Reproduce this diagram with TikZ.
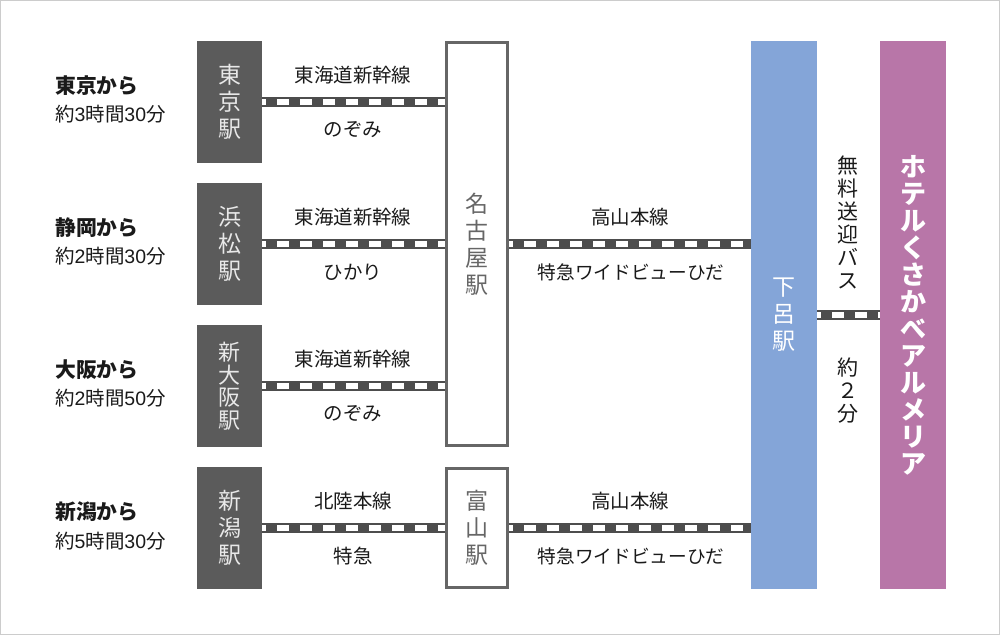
\documentclass[tikz,border=0pt]{standalone}
\usepackage{fontspec}
\setmainfont{Noto Sans CJK JP}
\newfontfamily\latinfont{Liberation Sans}
\newcommand\ldig[1]{{\latinfont #1}}
\definecolor{framegray}{HTML}{CCCCCC}
\definecolor{stngray}{HTML}{5B5B5B}
\definecolor{stntext}{HTML}{E8E8E8}
\definecolor{linegray}{HTML}{666666}
\definecolor{railgray}{HTML}{4D4D4D}
\definecolor{gerob}{HTML}{84A5D8}
\definecolor{hotelp}{HTML}{B876A8}
\definecolor{txt}{HTML}{1A1A1A}
\tikzset{
  darkstn/.style={rectangle, fill=stngray, text=stntext, inner sep=0pt,
    minimum width=48.75pt, minimum height=91.5pt, align=center,
    font=\fontsize{17.25}{20.25}\selectfont},
  whitestn/.style={rectangle, draw=linegray, line width=2.6pt, fill=white,
    text=linegray, inner sep=0pt, minimum width=45.4pt, align=center,
    font=\fontsize{17.25}{20.25}\selectfont},
  bigbar/.style={rectangle, inner sep=0pt, minimum width=49.5pt,
    minimum height=411pt, align=center},
  routelbl/.style={font=\fontsize{14.6}{17}\selectfont, text=txt, inner sep=0pt},
  originlbl/.style={font=\bfseries\fontsize{15.6}{18}\selectfont, text=txt, anchor=west, inner sep=0pt},
  timelbl/.style={font=\fontsize{14.6}{16}\selectfont, text=txt, anchor=west, inner sep=0pt},
  buslbl/.style={font=\fontsize{15.75}{17.25}\selectfont, text=txt, align=center, inner sep=0pt},
  railway/.style={draw=railgray, line width=7.5pt,
    postaction={draw=white, line width=4.2pt, dash pattern=on 8.8pt off 8.45pt, dash phase=6pt}}
}
\begin{document}
\begin{tikzpicture}[x=0.75pt,y=-0.75pt]
\useasboundingbox (0,0) rectangle (1000,635);
\draw[framegray, line width=0.75pt] (0.5,0.5) rectangle (999.5,634.5);

% origin stations
\node[darkstn] (tokyo) at (229.5,102) {東\\京\\駅};
\node[darkstn] (hamamatsu) at (229.5,244) {浜\\松\\駅};
\node[darkstn, font=\fontsize{16.5}{16.9}\selectfont] (osaka) at (229.5,386) {新\\大\\阪\\駅};
\node[darkstn] (niigata) at (229.5,528) {新\\潟\\駅};

% transfer stations
\node[whitestn, minimum height=301.9pt] (nagoya) at (477,244) {名\\古\\屋\\駅};
\node[whitestn, minimum height=88.9pt] (toyama) at (477,528) {富\\山\\駅};

% destination bars
\node[bigbar, fill=gerob, text=white, font=\fontsize{17.25}{20.25}\selectfont] (gero) at (784,315) {下\\呂\\駅};
\node[bigbar, fill=hotelp, text=white, font=\bfseries\fontsize{19.5}{20.25}\selectfont] (hotel) at (913,315) {ホ\\テ\\ル\\く\\さ\\か\\べ\\ア\\ル\\メ\\リ\\ア};

% rail lines
\draw[railway] (tokyo.east) -- (tokyo.east -| nagoya.west);
\draw[railway] (hamamatsu.east) -- (hamamatsu.east -| nagoya.west);
\draw[railway] (osaka.east) -- (osaka.east -| nagoya.west);
\draw[railway] (niigata.east) -- (toyama.west);
\draw[railway] (nagoya.east) -- (nagoya.east -| gero.west);
\draw[railway] (toyama.east) -- (toyama.east -| gero.west);
\draw[railway] (gero.east) -- (hotel.west);

% origin labels
\node[originlbl] (o1) at (55,86) {東京から};
\node[timelbl] (t1) at (55,114) {約\ldig{3}時間\ldig{30}分};
\node[originlbl] (o2) at (55,228) {静岡から};
\node[timelbl] (t2) at (55,256) {約\ldig{2}時間\ldig{30}分};
\node[originlbl] (o3) at (55,370) {大阪から};
\node[timelbl] (t3) at (55,398) {約\ldig{2}時間\ldig{50}分};
\node[originlbl] (o4) at (55,512) {新潟から};
\node[timelbl] (t4) at (55,541) {約\ldig{5}時間\ldig{30}分};

% route labels
\node[routelbl] (r1a) at (353,75) {東海道新幹線};
\node[routelbl] (r1b) at (353,130) {のぞみ};
\node[routelbl] (r2a) at (353,217) {東海道新幹線};
\node[routelbl] (r2b) at (353,272) {ひかり};
\node[routelbl] (r3a) at (353,359) {東海道新幹線};
\node[routelbl] (r3b) at (353,414) {のぞみ};
\node[routelbl] (r4a) at (353,501) {北陸本線};
\node[routelbl] (r4b) at (353,556) {特急};
\node[routelbl] (r5a) at (630,217) {高山本線};
\node[routelbl, font=\fontsize{14}{17}\selectfont] (r5b) at (631,272) {特急ワイドビューひだ};
\node[routelbl] (r6a) at (630,501) {高山本線};
\node[routelbl, font=\fontsize{14}{17}\selectfont] (r6b) at (631,556) {特急ワイドビューひだ};

% bus labels
\node[buslbl] (bus1) at (848,222) {無\\料\\送\\迎\\バ\\ス};
\node[buslbl] (bus2) at (848,391) {約\\２\\分};
\end{tikzpicture}
\end{document}
